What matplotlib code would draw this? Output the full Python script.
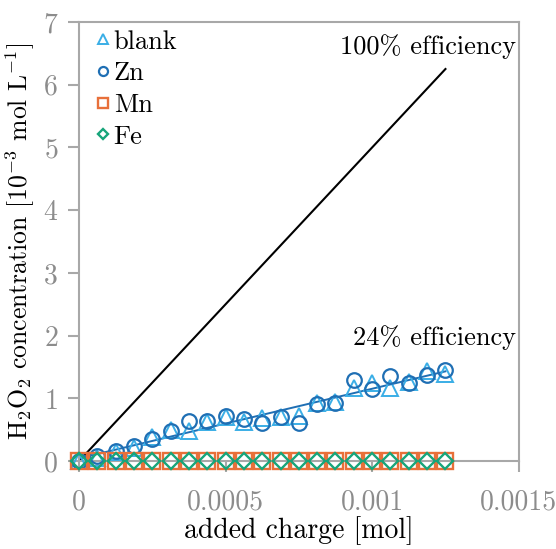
import numpy as np
import matplotlib
matplotlib.use("Agg")
import matplotlib.pyplot as plt

plt.rcParams['font.family'] = 'serif'
plt.rcParams['font.serif'] = ['cmr10']
plt.rcParams['mathtext.fontset'] = 'cm'
plt.rcParams['axes.unicode_minus'] = False
plt.rcParams['axes.formatter.use_mathtext'] = True

# added charge [mol]
charge = np.arange(21) * 0.0000625

# H2O2 concentration [10^-3 mol/L]
blank = [0.0, 0.05, 0.15, 0.21, 0.38, 0.50, 0.48, 0.62, 0.70, 0.63,
         0.68, 0.70, 0.72, 0.92, 0.95, 1.17, 1.25, 1.17, 1.26, 1.44, 1.39]
zn = [0.0, 0.08, 0.16, 0.24, 0.36, 0.48, 0.64, 0.64, 0.72, 0.67,
      0.61, 0.71, 0.61, 0.91, 0.92, 1.29, 1.15, 1.36, 1.24, 1.38, 1.46]
mn = [0.0] * 21
fe = [0.0] * 21

# theoretical yield at 100 % efficiency (2 e- per H2O2, 0.1 L)
ideal_slope = 5000.0
c_blank = '#3aaee6'
c_zn = '#1f6fb4'
c_mn = '#e8703a'
c_fe = '#17a57a'
grey = '#a8a8a8'

fig, ax = plt.subplots(figsize=(5.56, 5.49), dpi=100)
fig.subplots_adjust(left=0.142, right=0.933, bottom=0.160, top=0.960)

x_end = charge[-1]
ax.plot([0, x_end], [0, ideal_slope * x_end], color='black', lw=1.5, zorder=2)

both_y = np.concatenate([blank, zn])
both_x = np.concatenate([charge, charge])
k, b = np.polyfit(both_x, both_y, 1)
ax.plot([0, x_end], [b, k * x_end + b], color=c_zn, lw=1.4, zorder=2)

ax.plot(charge, blank, ls='none', marker='^', ms=12, mfc='none', mec=c_blank, mew=1.4,
        label='blank', zorder=3, clip_on=False)
ax.plot(charge, zn, ls='none', marker='o', ms=10.5, mfc='none', mec=c_zn, mew=1.6,
        label='Zn', zorder=3, clip_on=False)
ax.plot(charge, mn, ls='none', marker='s', ms=11.5, mfc='none', mec=c_mn, mew=1.7,
        label='Mn', zorder=3, clip_on=False)
ax.plot(charge, fe, ls='none', marker='D', ms=8.5, mfc='none', mec=c_fe, mew=1.7,
        label='Fe', zorder=4, clip_on=False)

ax.text(0.00149, 6.6, '100% efficiency', fontsize=19, ha='right', va='center')
ax.text(0.00149, 1.97, '24% efficiency', fontsize=19, ha='right', va='center')

ax.set_xlim(0, 0.0015)
ax.set_ylim(0, 7)
ax.set_xticks([0, 0.0005, 0.001, 0.0015])
ax.set_xticklabels(['0', '0.0005', '0.001', '0.0015'])
ax.set_yticks(range(8))

for s in ax.spines.values():
    s.set_color(grey)
    s.set_linewidth(1.5)
ax.tick_params(axis='both', colors=grey, labelcolor='#8c8c8c', labelsize=20,
               length=8, width=1.5, direction='out')
ax.tick_params(axis='x', pad=12)
ax.tick_params(axis='y', pad=7)

ax.set_xlabel('added charge [mol]', fontsize=20, labelpad=1)
ax.set_ylabel(r'H$_2$O$_2$ concentration [10$^{-3}$ mol L$^{-1}$]', fontsize=18.5, labelpad=4)

leg = ax.legend(loc='upper left', frameon=False, fontsize=19, markerscale=0.62,
                handlelength=0.5, handletextpad=0.15, labelspacing=0.3,
                borderaxespad=0.0, borderpad=0.0, bbox_to_anchor=(0.04, 0.982))

fig.savefig('out.png', dpi=100)
